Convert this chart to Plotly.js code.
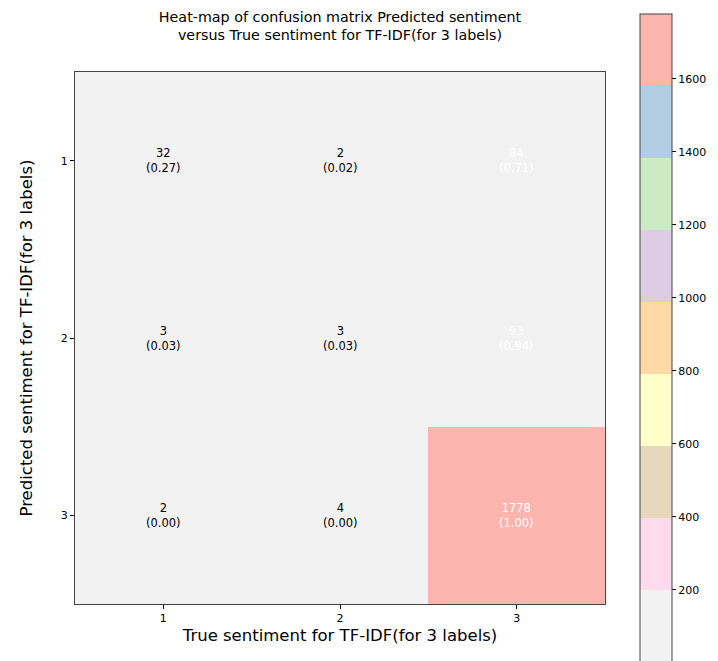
<!DOCTYPE html>
<html><head><meta charset="utf-8">
<script src="https://cdn.plot.ly/plotly-3.0.1.min.js"></script>
<style>html,body{margin:0;padding:0;background:#fff;}</style>
</head><body>
<div id="chart" style="width:718px;height:661px;"></div>
<script>
const labels = [1, 2, 3];
const counts = [
  [32, 2, 84],
  [3, 3, 93],
  [2, 4, 1778]
];
const ratios = [
  ["0.27", "0.02", "0.71"],
  ["0.03", "0.03", "0.94"],
  ["0.00", "0.00", "1.00"]
];
const textColors = [
  ["black", "black", "white"],
  ["black", "black", "white"],
  ["black", "black", "white"]
];
const palette = ['#f2f2f2','#fddaec','#e5d8bd','#ffffcc','#fed9a6','#decbe4','#ccebc5','#b3cde3','#fbb4ae'];
const cbTicks = [200, 400, 600, 800, 1000, 1200, 1400, 1600];

const colorscale = [];
palette.forEach((c, i) => {
  colorscale.push([i / palette.length, c]);
  colorscale.push([(i + 1) / palette.length, c]);
});

let zmin = Infinity, zmax = -Infinity;
counts.forEach(r => r.forEach(v => { zmin = Math.min(zmin, v); zmax = Math.max(zmax, v); }));

const annotations = [];
labels.forEach((yl, i) => labels.forEach((xl, j) => {
  annotations.push({
    x: xl, y: yl, xref: 'x', yref: 'y', showarrow: false,
    text: counts[i][j] + '<br>(' + ratios[i][j] + ')',
    font: {family: 'DejaVu Sans', size: 11.5, color: textColors[i][j]}
  });
}));

const font = {family: 'DejaVu Sans', color: '#000'};
Plotly.newPlot('chart', [{
  type: 'heatmap',
  x: labels, y: labels, z: counts,
  zmin: zmin, zmax: zmax,
  colorscale: colorscale,
  xgap: 0, ygap: 0,
  hoverinfo: 'none',
  colorbar: {
    x: 1.064, xanchor: 'left', xref: 'paper',
    y: 1.109, yanchor: 'top', yref: 'paper',
    len: 648, lenmode: 'pixels',
    thickness: 32, thicknessmode: 'pixels',
    xpad: 0, ypad: 0,
    outlinecolor: '#444', outlinewidth: 1,
    tickvals: cbTicks, ticks: 'outside', ticklen: 4, tickcolor: '#000',
    tickfont: {family: 'DejaVu Sans', size: 11, color: '#000'}
  }
}], {
  width: 718, height: 661,
  margin: {l: 75, r: 112, t: 72, b: 57},
  paper_bgcolor: '#fff', plot_bgcolor: '#fff',
  font: font,
  title: {
    text: 'Heat-map of confusion matrix Predicted sentiment<br>versus True sentiment for TF-IDF(for 3 labels)',
    font: {family: 'DejaVu Sans', size: 14.3, color: '#000'},
    x: 0.5, xref: 'paper', xanchor: 'center', y: 0.967, yanchor: 'top'
  },
  xaxis: {
    range: [0.5, 3.5], tickvals: labels, ticks: 'outside', ticklen: 4, tickcolor: '#000',
    showgrid: false, zeroline: false, showline: true, linecolor: '#444', linewidth: 1, mirror: true,
    tickfont: {family: 'DejaVu Sans', size: 11, color: '#000'},
    title: {text: 'True sentiment for TF-IDF(for 3 labels)', font: {family: 'DejaVu Sans', size: 16.5, color: '#000'}, standoff: 5}
  },
  yaxis: {
    range: [3.5, 0.5], tickvals: labels, ticks: 'outside', ticklen: 4, tickcolor: '#000',
    showgrid: false, zeroline: false, showline: true, linecolor: '#444', linewidth: 1, mirror: true,
    tickfont: {family: 'DejaVu Sans', size: 11, color: '#000'},
    title: {text: 'Predicted sentiment for TF-IDF(for 3 labels)', font: {family: 'DejaVu Sans', size: 16.5, color: '#000'}, standoff: 24}
  },
  annotations: annotations
}, {displayModeBar: false, staticPlot: true});
</script>
</body></html>
